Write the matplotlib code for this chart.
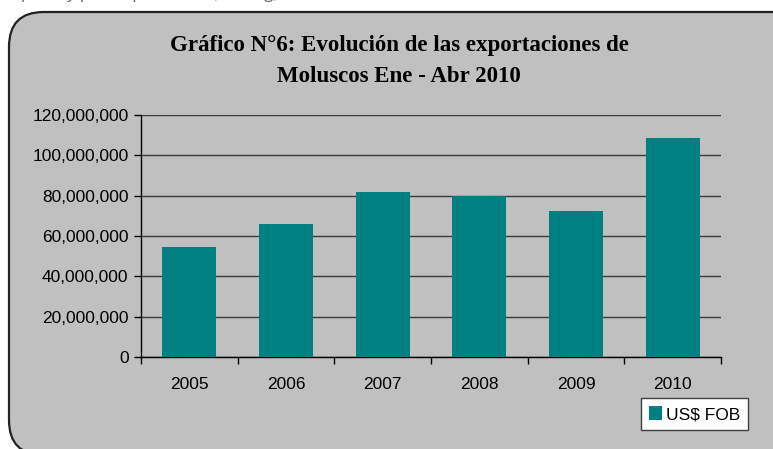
import matplotlib.pyplot as plt
from matplotlib.patches import FancyBboxPatch, Patch
from matplotlib.ticker import FuncFormatter

years = ["2005", "2006", "2007", "2008", "2009", "2010"]
fob_usd = [54500000, 66000000, 82000000, 80000000, 72400000, 108500000]

title_text = "Gráfico N°6: Evolución de las exportaciones de\nMoluscos Ene - Abr 2010"
legend_label = "US$ FOB"

BAR_COLOR = "#008080"
BG = "#C0C0C0"

fig = plt.figure(figsize=(7.73, 4.49), dpi=100)
fig.patch.set_facecolor("white")

# marco redondeado gris (se sale por la derecha y abajo)
W, H = 773.0, 449.0
frame = FancyBboxPatch((9 / W, -6 / H), 800 / W, (449 - 12 + 6) / H,
                       boxstyle="round,pad=0,rounding_size=0.045",
                       transform=fig.transFigure, facecolor=BG,
                       edgecolor="#222222", linewidth=1.6, mutation_aspect=W / H,
                       zorder=-5)
fig.patches.append(frame)

# texto del documento cortado arriba
fig.text(3 / W, 1 + 2.5 / H, "exporta y precio promedio (US$/Kg) en los últimos años",
         fontsize=12, family="Open Sans", color="#666666", va="baseline", ha="left")

fig.text(399 / W, 1 - 61 / H, title_text, ha="center", va="center",
         fontsize=16.5, fontweight="bold", family="Liberation Serif",
         linespacing=1.65)

ax = fig.add_axes([141 / W, 1 - 357.3 / H, 580 / W, 242.6 / H])
ax.set_facecolor(BG)

x = range(len(years))
ax.bar(x, fob_usd, width=0.56, color=BAR_COLOR, zorder=3)

ax.set_xlim(-0.5, len(years) - 0.5)
ax.set_ylim(0, 120000000)
ax.set_yticks(range(0, 120000001, 20000000))
ax.yaxis.set_major_formatter(FuncFormatter(lambda v, p: f"{int(v):,}"))
ax.set_xticks(list(x))
ax.set_xticklabels(years)
ax.set_xticks([i - 0.5 for i in range(len(years) + 1)], minor=True)

ax.grid(axis="y", color="#3a3a3a", linewidth=1.0, zorder=1)
for s in ["top", "right"]:
    ax.spines[s].set_visible(False)
for s in ["left", "bottom"]:
    ax.spines[s].set_color("black")
    ax.spines[s].set_linewidth(1.0)

ax.tick_params(axis="y", length=5, width=1, pad=4, labelsize=12.5,
               labelfontfamily="Liberation Sans")
ax.tick_params(axis="x", which="major", length=0, pad=14, labelsize=12.5,
               labelfontfamily="Liberation Sans")
ax.tick_params(axis="x", which="minor", length=5, width=1)

leg = fig.legend(handles=[Patch(facecolor=BAR_COLOR, label=legend_label)],
                 loc="upper left", bbox_to_anchor=(641 / W, 1 - 398 / H),
                 bbox_transform=fig.transFigure, fancybox=False,
                 prop={"family": "Liberation Sans", "size": 12.5},
                 handlelength=0.75, handleheight=0.9, handletextpad=0.25,
                 borderpad=0.45, borderaxespad=0, framealpha=1)
leg.get_frame().set_edgecolor("#404040")
leg.get_frame().set_linewidth(1.0)

fig.savefig("out.png", dpi=100)
